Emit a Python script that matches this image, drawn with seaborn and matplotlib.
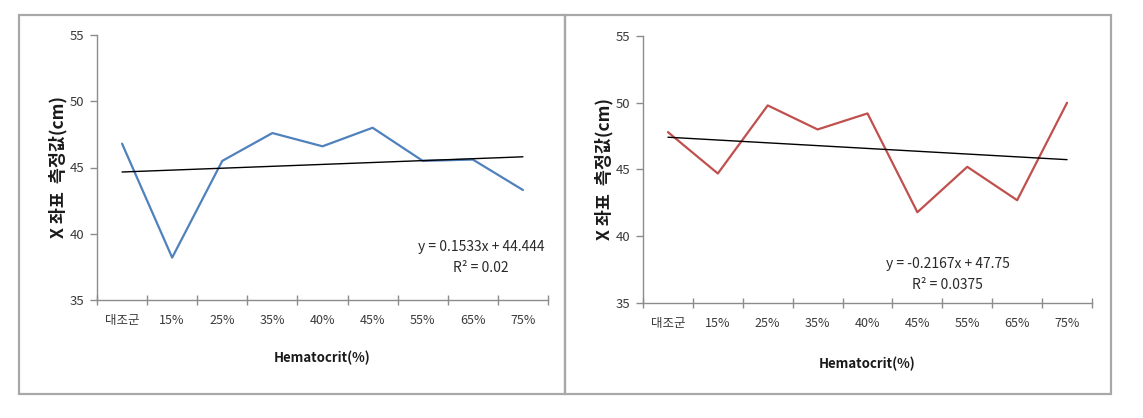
import numpy as np
import pandas as pd
import matplotlib
matplotlib.use("Agg")
import matplotlib.pyplot as plt
from matplotlib.patches import Rectangle
import seaborn as sns

# ---- data ----
categories = ["대조군", "15%", "25%", "35%", "40%", "45%", "55%", "65%", "75%"]
left_values = [46.8, 38.2, 45.5, 47.6, 46.6, 48.0, 45.5, 45.6, 43.3]
right_values = [47.8, 44.7, 49.8, 48.0, 49.2, 41.8, 45.2, 42.7, 50.0]
left_eq = ["y = 0.1533x + 44.444", "R² = 0.02"]
right_eq = ["y = -0.2167x + 47.75", "R² = 0.0375"]
y_ticks = [35, 40, 45, 50, 55]
y_label = "X 좌표  측정값(cm)"
x_label = "Hematocrit(%)"

sns.set_theme(style="white")
plt.rcParams['font.family'] = ['Noto Sans CJK KR', 'DejaVu Sans']

W, H = 1143, 418
fig = plt.figure(figsize=(W / 100, H / 100), dpi=100)

# panel frames
frame_col = "#A8A8A8"
fig.add_artist(Rectangle((19 / W, 1 - 394 / H), (565 - 19) / W, (394 - 15) / H,
                         transform=fig.transFigure, fill=False, ec=frame_col, lw=1.6))
fig.add_artist(Rectangle((565 / W, 1 - 394 / H), (1111 - 565) / W, (394 - 15) / H,
                         transform=fig.transFigure, fill=False, ec=frame_col, lw=1.6))

ax_l = fig.add_axes([97 / W, 1 - 300 / H, (548 - 97) / W, (300 - 35) / H])
ax_r = fig.add_axes([643 / W, 1 - 303 / H, (1092 - 643) / W, (303 - 36) / H])

panels = [
    (ax_l, left_values, "#4F81BD", left_eq, (7.16, 39.0, 37.4), 358),
    (ax_r, right_values, "#C0504D", right_eq, (5.61, 37.9, 36.35), 364),
]

pos = np.arange(len(categories))
text_col = "#3A3A3A"
for ax, vals, col, eq, (tx, ty1, ty2), xl_y in panels:
    df = pd.DataFrame({"pos": pos, "val": vals})
    sns.lineplot(data=df, x="pos", y="val", ax=ax, color=col, lw=1.6)
    sns.regplot(data=df, x="pos", y="val", ax=ax, scatter=False, ci=None,
                truncate=True, line_kws=dict(color="black", lw=1.0))
    ax.set_xlim(-0.5, len(categories) - 0.5)
    ax.set_ylim(35, 55)
    ax.set_yticks(y_ticks)
    ax.set_yticklabels([str(t) for t in y_ticks], fontsize=9.5, color=text_col)
    ax.set_xticks(pos)
    ax.set_xticklabels(categories, fontsize=9, color=text_col)
    ax.set_xticks(np.arange(len(categories) + 1) - 0.5, minor=True)
    ax.tick_params(axis="x", which="major", length=0, pad=10, bottom=True)
    ax.tick_params(axis="x", which="minor", length=7, direction="inout",
                   color="#8C8C8C", width=1, bottom=True)
    ax.tick_params(axis="y", which="major", length=5, direction="out",
                   color="#8C8C8C", width=1, left=True, pad=4)
    for s in ["top", "right"]:
        ax.spines[s].set_visible(False)
    for s in ["left", "bottom"]:
        ax.spines[s].set_color("#8C8C8C")
        ax.spines[s].set_linewidth(1.0)
    ax.set_xlabel("")
    ax.set_ylabel(y_label, fontsize=12.5, fontweight="bold", color="#1A1A1A", labelpad=2)
    ax.text(tx, ty1, eq[0], ha="center", va="center", fontsize=10, color="#2A2A2A")
    ax.text(tx, ty2, eq[1], ha="center", va="center", fontsize=10, color="#2A2A2A")
    bb = ax.get_position()
    fig.text((bb.x0 + bb.x1) / 2, 1 - xl_y / H, x_label, ha="center", va="center",
             fontsize=9.5, fontweight="bold", color="#1A1A1A")

fig.savefig("out.png", dpi=100, facecolor="white")
